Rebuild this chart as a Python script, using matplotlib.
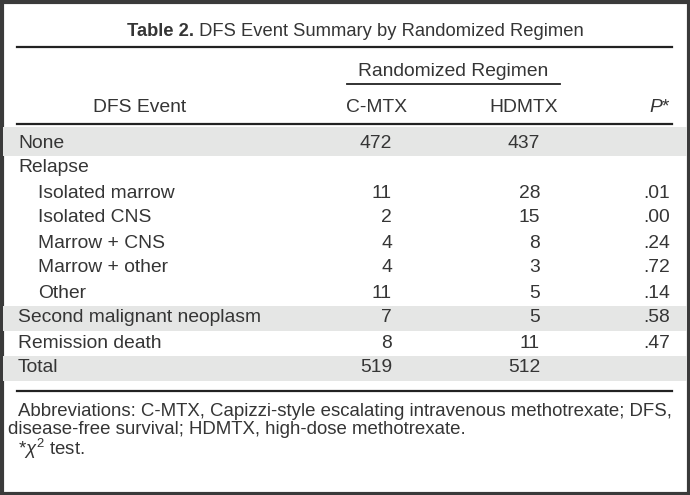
import matplotlib
matplotlib.use('Agg')
import matplotlib.pyplot as plt
from matplotlib.patches import Rectangle

# ==================== Data ====================
title_bold = 'Table 2.'
title_rest = 'DFS Event Summary by Randomized Regimen'
group_header = 'Randomized Regimen'
col_headers = ['DFS Event', 'C-MTX', 'HDMTX', '$P$*']

events = ['None', 'Relapse', 'Isolated marrow', 'Isolated CNS', 'Marrow + CNS',
          'Marrow + other', 'Other', 'Second malignant neoplasm',
          'Remission death', 'Total']
indented = [False, False, True, True, True, True, True, False, False, False]
shaded = [True, False, False, False, False, False, False, True, False, True]
cmtx = ['472', '', '11', '2', '4', '4', '11', '7', '8', '519']
hdmtx = ['437', '', '28', '15', '8', '3', '5', '5', '11', '512']
pvals = ['', '', '.01', '.00', '.24', '.72', '.14', '.58', '.47', '']

footnotes = [
    'Abbreviations: C-MTX, Capizzi-style escalating intravenous methotrexate; DFS,',
    'disease-free survival; HDMTX, high-dose methotrexate.',
    r'*$\chi^2$ test.',
]

# ==================== Style ====================
plt.rcParams['font.family'] = ['Liberation Sans', 'DejaVu Sans']
plt.rcParams['mathtext.fontset'] = 'custom'
plt.rcParams['mathtext.it'] = 'Liberation Sans:italic'
plt.rcParams['mathtext.rm'] = 'Liberation Sans'
txt = '#353535'
fs = 13.9        # body / headers
fs_title = 13.2
fs_note = 13.4
band = '#e5e6e5'

W, H = 690, 495
fig = plt.figure(figsize=(W / 100, H / 100), dpi=100)
ax = fig.add_axes([0, 0, 1, 1])
ax.set_xlim(0, W)
ax.set_ylim(H, 0)
ax.axis('off')

# outer frame
ax.add_patch(Rectangle((1.5, 1.5), W - 3, H - 3, fill=False, edgecolor='#3a3a3a', linewidth=3))

left, right = 17, 672
row_y0, row_h = 143, 25

# shaded bands
for i, s in enumerate(shaded):
    if s:
        y = row_y0 + i * row_h
        top = 127 if i == 0 else y - row_h / 2
        ax.add_patch(Rectangle((3, top), W - 6, y + row_h / 2 - top, facecolor=band, edgecolor='none'))

# rules
ax.plot([left, right], [47, 47], color='#222222', linewidth=1.6)
ax.plot([left, right], [124, 124], color='#222222', linewidth=1.6)
ax.plot([left, right], [391, 391], color='#222222', linewidth=1.6)
ax.plot([347, 560], [84, 84], color='#222222', linewidth=1.3)

# title
renderer = fig.canvas.get_renderer()
t1 = ax.text(0, 32, title_bold, fontsize=fs_title, fontweight='bold', color=txt, va='center', ha='left')
t2 = ax.text(0, 32, ' ' + title_rest, fontsize=fs_title, color=txt, va='center', ha='left')
w1 = t1.get_window_extent(renderer).width
w2 = t2.get_window_extent(renderer).width
x0 = 355 - (w1 + w2) / 2
t1.set_x(x0)
t2.set_x(x0 + w1)

# headers
ax.text(453, 72, group_header, fontsize=fs, color=txt, va='center', ha='center')
ax.text(140, 107, col_headers[0], fontsize=fs, color=txt, va='center', ha='center')
ax.text(377, 107, col_headers[1], fontsize=fs, color=txt, va='center', ha='center')
ax.text(558, 107, col_headers[2], fontsize=fs, color=txt, va='center', ha='right')
ax.text(671, 107, col_headers[3], fontsize=fs, color=txt, va='center', ha='right')

# body
for i, ev in enumerate(events):
    y = row_y0 + i * row_h
    ax.text(38 if indented[i] else 18, y, ev, fontsize=fs, color=txt, va='center', ha='left')
    ax.text(392, y, cmtx[i], fontsize=fs, color=txt, va='center', ha='right')
    ax.text(540, y, hdmtx[i], fontsize=fs, color=txt, va='center', ha='right')
    ax.text(670, y, pvals[i], fontsize=fs, color=txt, va='center', ha='right')

# footnotes
for j, (fx, fy) in enumerate([(18, 412), (8, 430), (18, 449)]):
    ax.text(fx, fy, footnotes[j], fontsize=fs_note, color=txt, va='center', ha='left')

fig.savefig('out.png', dpi=100)
